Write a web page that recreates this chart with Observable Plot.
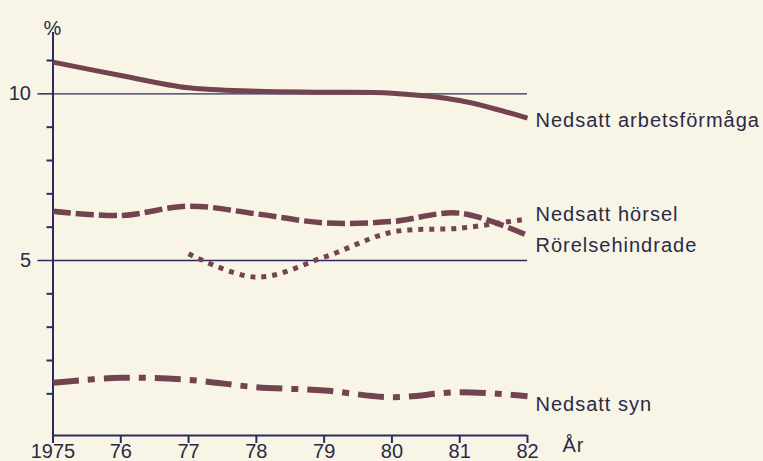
<!DOCTYPE html>
<html>
<head>
<meta charset="utf-8">
<script src="https://cdn.jsdelivr.net/npm/d3@7"></script>
<script src="https://cdn.jsdelivr.net/npm/@observablehq/plot@0.6"></script>
<style>
  html, body { margin: 0; padding: 0; background: #f8f5e7; }
  #chart svg { display: block; }
  g[aria-label="text"] text { letter-spacing: 1px; }
</style>
</head>
<body>
<div id="chart"></div>
<script>
// ---- data ----
const years = [1975, 1976, 1977, 1978, 1979, 1980, 1981, 1982];
const xTickLabels = ["1975", "76", "77", "78", "79", "80", "81", "82"];
const arbetsformaga = [10.95, 10.55, 10.18, 10.08, 10.05, 10.02, 9.8, 9.27];
const horsel = [6.48, 6.35, 6.63, 6.4, 6.13, 6.17, 6.42, 5.75];
const rorelseYears = [1977, 1978, 1979, 1980, 1981, 1982];
const rorelsehindrade = [5.2, 4.5, 5.1, 5.85, 5.97, 6.25];
const syn = [1.33, 1.48, 1.42, 1.2, 1.1, 0.9, 1.05, 0.93];
const seriesNames = ["Nedsatt arbetsförmåga", "Nedsatt hörsel", "Rörelsehindrade", "Nedsatt syn"];
const yLabelTicks = [5, 10];
const yMinorTicks = [1, 2, 3, 4, 6, 7, 8, 9, 11];
const yUnit = "%";
const xUnit = "År";

// ---- styles ----
const lineColor = "#734350";
const inkColor = "#2a2a46";
const axisColor = "#2b2b5e";
const narrow = "'Liberation Sans Narrow', 'Liberation Sans', Arial, sans-serif";
const regular = "'Liberation Sans', Arial, sans-serif";

const toRows = (xs, ys) => xs.map((x, i) => ({x, y: ys[i]}));
const sArb = toRows(years, arbetsformaga);
const sHor = toRows(years, horsel);
const sRor = toRows(rorelseYears, rorelsehindrade);
const sSyn = toRows(years, syn);
const last = (rows) => rows[rows.length - 1];

const lineOpts = {x: "x", y: "y", curve: "catmull-rom", stroke: lineColor, strokeLinecap: "butt", strokeLinejoin: "round"};
const labelOpts = {x: "x", y: "y", text: "label", textAnchor: "start", dx: 8, fontSize: 20, fill: inkColor, fontFamily: regular};

const chart = Plot.plot({
  width: 763,
  height: 461,
  marginLeft: 52.5,
  marginRight: 236,
  marginTop: 32,
  marginBottom: 26,
  style: {background: "#f8f5e7", fontFamily: regular, color: axisColor},
  x: {domain: [1975, 1982], axis: null},
  y: {domain: [-0.25, 11.84], axis: null},
  marks: [
    Plot.gridY({ticks: yLabelTicks, stroke: axisColor, strokeOpacity: 1, strokeWidth: 1.3}),
    Plot.ruleX([1975], {stroke: axisColor, strokeWidth: 2}),
    Plot.ruleY([-0.25], {stroke: axisColor, strokeWidth: 2}),
    Plot.axisY({ticks: yMinorTicks, tickSize: 6, tickFormat: () => "", stroke: axisColor, strokeWidth: 2, label: null}),
    Plot.axisY({ticks: yLabelTicks, tickSize: 15, tickPadding: 7, tickFormat: d => String(d), stroke: axisColor, strokeWidth: 1.5,
      fontSize: 20, fontFamily: narrow, fill: inkColor, label: null}),
    Plot.axisX({ticks: years, tickSize: 8, tickPadding: 0, tickFormat: (d) => xTickLabels[years.indexOf(d)],
      stroke: axisColor, strokeWidth: 2, fontSize: 20, fontFamily: narrow, fill: inkColor, label: null}),
    Plot.text([yUnit], {frameAnchor: "top-left", dy: -12, textAnchor: "middle", fontSize: 20, fill: inkColor, fontFamily: narrow}),
    Plot.text([xUnit], {frameAnchor: "bottom-right", textAnchor: "start", dx: 35, dy: 16, fontSize: 20, fill: inkColor, fontFamily: narrow}),

    Plot.line(sArb, {...lineOpts, strokeWidth: 5}),
    Plot.line(sHor, {...lineOpts, strokeWidth: 5.5, strokeDasharray: "18,5"}),
    Plot.line(sRor, {...lineOpts, strokeWidth: 5, strokeDasharray: "5,6"}),
    Plot.line(sSyn, {...lineOpts, strokeWidth: 6, strokeDasharray: "26,9,7,9"}),

    Plot.text([{...last(sArb), label: seriesNames[0]}], {...labelOpts, dy: 2}),
    Plot.text([{...last(sHor), label: seriesNames[1]}], {...labelOpts, dy: -21}),
    Plot.text([{...last(sRor), label: seriesNames[2]}], {...labelOpts, dy: 27}),
    Plot.text([{...last(sSyn), label: seriesNames[3]}], {...labelOpts, dy: 8})
  ]
});
document.getElementById("chart").appendChild(chart);
</script>
</body>
</html>
